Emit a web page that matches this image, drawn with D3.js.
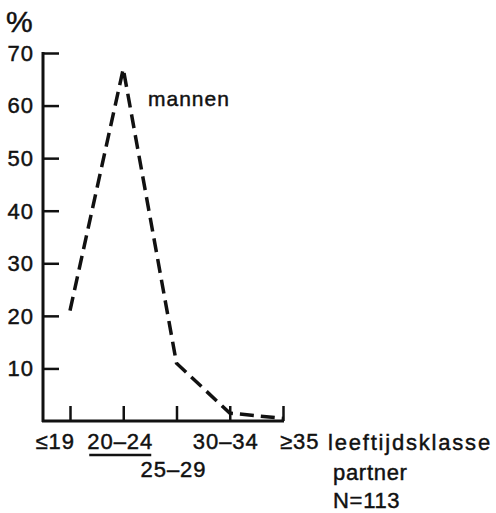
<!DOCTYPE html>
<html><head><meta charset="utf-8">
<script src="https://cdn.jsdelivr.net/npm/d3@7"></script>
<style>
html,body{margin:0;padding:0;background:#fff;}
svg text{font-family:"Liberation Sans",Arial,sans-serif;fill:#111;stroke:#111;stroke-width:0.45px;}
</style></head>
<body><svg id="c" width="496" height="513"></svg>
<script>
const categories = ["≤19", "20–24", "25–29", "30–34", "≥35"];
const values = [21, 67, 11, 1.5, 0.5];
const yTicks = [10, 20, 30, 40, 50, 60, 70];
const seriesLabel = "mannen";
const xTitle = ["leeftijdsklasse", "partner", "N=113"];
const yUnit = "%";

const svg = d3.select("#c");
const x = d3.scalePoint().domain(categories).range([70, 283]);
const y = d3.scaleLinear().domain([0, 70]).range([421, 53]);
const x0 = 43;

// y axis
const yAxis = d3.axisRight(y).tickValues(yTicks).tickSize(16).tickFormat("");
const gy = svg.append("g").attr("transform", `translate(${x0},0)`).call(yAxis);
gy.select(".domain").remove();
gy.selectAll(".tick line").attr("stroke", "#111").attr("stroke-width", 2.5);
svg.append("line").attr("x1", x0).attr("x2", x0).attr("y1", y(70) - 1).attr("y2", y(0) + 1)
  .attr("stroke", "#111").attr("stroke-width", 3);
svg.selectAll(".ylab").data(yTicks).enter().append("text")
  .attr("x", 34).attr("y", d => y(d)).attr("dy", "0.36em")
  .attr("text-anchor", "end").attr("font-size", 22).attr("letter-spacing", 1)
  .text(d => d);
svg.append("text").attr("x", 6).attr("y", 32).attr("font-size", 30).text(yUnit);

// x axis
const xAxis = d3.axisTop(x).tickSize(15).tickFormat("");
const gx = svg.append("g").attr("transform", `translate(0,${y(0)})`).call(xAxis);
gx.select(".domain").remove();
gx.selectAll(".tick line").attr("stroke", "#111").attr("stroke-width", 2.5);
svg.append("line").attr("x1", x0 - 1).attr("x2", x(categories[4]) + 1).attr("y1", y(0)).attr("y2", y(0))
  .attr("stroke", "#111").attr("stroke-width", 3);

// x labels
categories.forEach((c, i) => {
  let anchor = "middle", dx = -3, yy = 449;
  if (i === 0) { anchor = "end"; dx = 5; }
  if (i === 2) { yy = 477; }
  if (i === 3) { dx = -4; }
  if (i === 4) { anchor = "start"; dx = -3; }
  svg.append("text").attr("x", x(c) + dx).attr("y", yy).attr("text-anchor", anchor)
    .attr("font-size", 22).attr("letter-spacing", 1).text(c);
});
// underline under 20–24
svg.append("line").attr("x1", x(categories[1]) - 34).attr("x2", x(categories[1]) + 28)
  .attr("y1", 455).attr("y2", 455).attr("stroke", "#111").attr("stroke-width", 2.5);

svg.append("text").attr("x", 328).attr("y", 450).attr("font-size", 22).attr("letter-spacing", 1.8).text(xTitle[0]);
svg.append("text").attr("x", 333).attr("y", 480).attr("font-size", 22).attr("letter-spacing", 0.7).text(xTitle[1]);
svg.append("text").attr("x", 333).attr("y", 508).attr("font-size", 22).attr("letter-spacing", 0.7).text(xTitle[2]);

// line
const line = d3.line().x((d, i) => x(categories[i])).y(d => y(d));
svg.append("path").datum(values).attr("d", line).attr("fill", "none")
  .attr("stroke", "#111").attr("stroke-width", 3.5).attr("stroke-dasharray", "14,7");

svg.append("text").attr("x", 148).attr("y", 106).attr("font-size", 21).attr("letter-spacing", 1).text(seriesLabel);
</script></body></html>
